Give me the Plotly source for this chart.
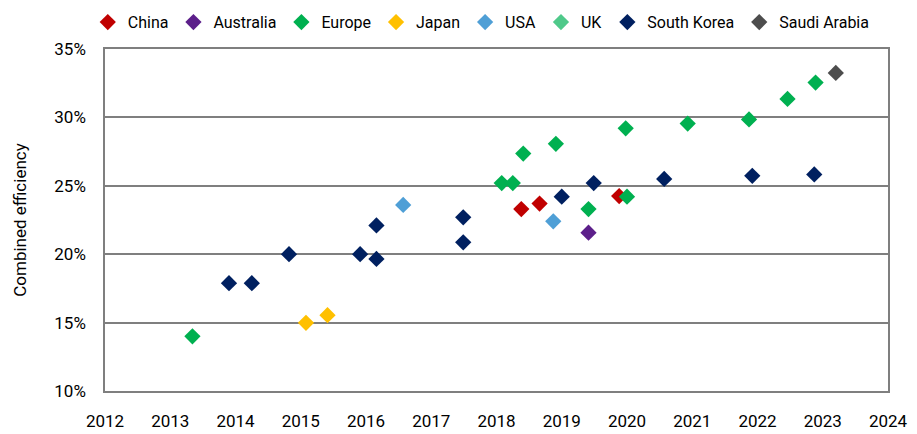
import plotly.graph_objects as go

# Data (year, combined efficiency in %)
china_x = [2018.38, 2018.66, 2019.88]
china_y = [23.3, 23.7, 24.25]

australia_x = [2019.41]
australia_y = [21.57]

europe_x = [2013.34, 2018.08, 2018.25, 2018.41, 2018.91, 2019.41, 2019.98, 2020.0,
            2020.93, 2021.87, 2022.46, 2022.89]
europe_y = [14.0, 25.2, 25.2, 27.36, 28.07, 23.3, 29.2, 24.2, 29.55, 29.85, 31.35, 32.55]

japan_x = [2015.08, 2015.41]
japan_y = [14.98, 15.54]

usa_x = [2016.57, 2018.87]
usa_y = [23.6, 22.4]

uk_x = []
uk_y = []

korea_x = [2013.9, 2014.25, 2014.82, 2015.91, 2016.16, 2016.16, 2017.49, 2017.49,
           2019.0, 2019.49, 2020.57, 2021.92, 2022.87]
korea_y = [17.88, 17.88, 20.0, 20.0, 22.1, 19.65, 22.7, 20.87, 24.2, 25.2, 25.5, 25.73, 25.83]

saudi_x = [2023.2]
saudi_y = [33.25]

x_ticks = list(range(2012, 2025))
y_ticks = [0.10, 0.15, 0.20, 0.25, 0.30, 0.35]

series = [
    ("China", china_x, china_y, "#C00000"),
    ("Australia", australia_x, australia_y, "#5C1F8A"),
    ("Europe", europe_x, europe_y, "#00B050"),
    ("Japan", japan_x, japan_y, "#FFC000"),
    ("USA", usa_x, usa_y, "#4F9FD6"),
    ("UK", uk_x, uk_y, "#4FC98A"),
    ("South Korea", korea_x, korea_y, "#002060"),
    ("Saudi Arabia", saudi_x, saudi_y, "#4D4D4D"),
]

FONT = "Roboto, sans-serif"

fig = go.Figure()
for name, xs, ys, col in series:
    if len(xs) == 0:
        xv, yv = [None], [None]
    else:
        xv, yv = xs, [v / 100 for v in ys]
    fig.add_trace(go.Scatter(
        x=xv, y=yv, name=name, mode="markers",
        marker=dict(symbol="diamond", size=12.5, color=col, line=dict(width=0)),
        hoverinfo="x+y+name",
    ))

# page body has an 8px default margin, so the figure is sized to fit inside it
fig.update_layout(
    width=909, height=426,
    margin=dict(l=97, r=29, t=41, b=43, autoexpand=False),
    paper_bgcolor="white", plot_bgcolor="white",
    font=dict(family=FONT, size=17, color="#000000"),
    showlegend=True,
    legend=dict(orientation="h", x=-0.022, xanchor="left", y=1.128, yanchor="top",
                font=dict(family=FONT, size=16, color="#000000"),
                itemsizing="trace", bgcolor="rgba(0,0,0,0)"),
    xaxis=dict(range=[2012, 2024], tickmode="array", tickvals=x_ticks,
               ticktext=[str(v) for v in x_ticks], automargin=False,
               showgrid=False, zeroline=False, showline=True, linecolor="#7F7F7F",
               linewidth=1.5, mirror=True, ticks="", ticklabelstandoff=14,
               tickfont=dict(family=FONT, size=17)),
    yaxis=dict(range=[0.10, 0.35], tickmode="array", tickvals=y_ticks, automargin=False,
               tickformat=".0%", showgrid=True, gridcolor="#7F7F7F", gridwidth=1.5,
               zeroline=False, showline=True, linecolor="#7F7F7F", linewidth=1.5,
               mirror=True, ticks="", ticklabelstandoff=14,
               tickfont=dict(family=FONT, size=17),
               title=dict(text="Combined efficiency", standoff=23,
                          font=dict(family=FONT, size=17))),
)

fig.write_html("out.html")
